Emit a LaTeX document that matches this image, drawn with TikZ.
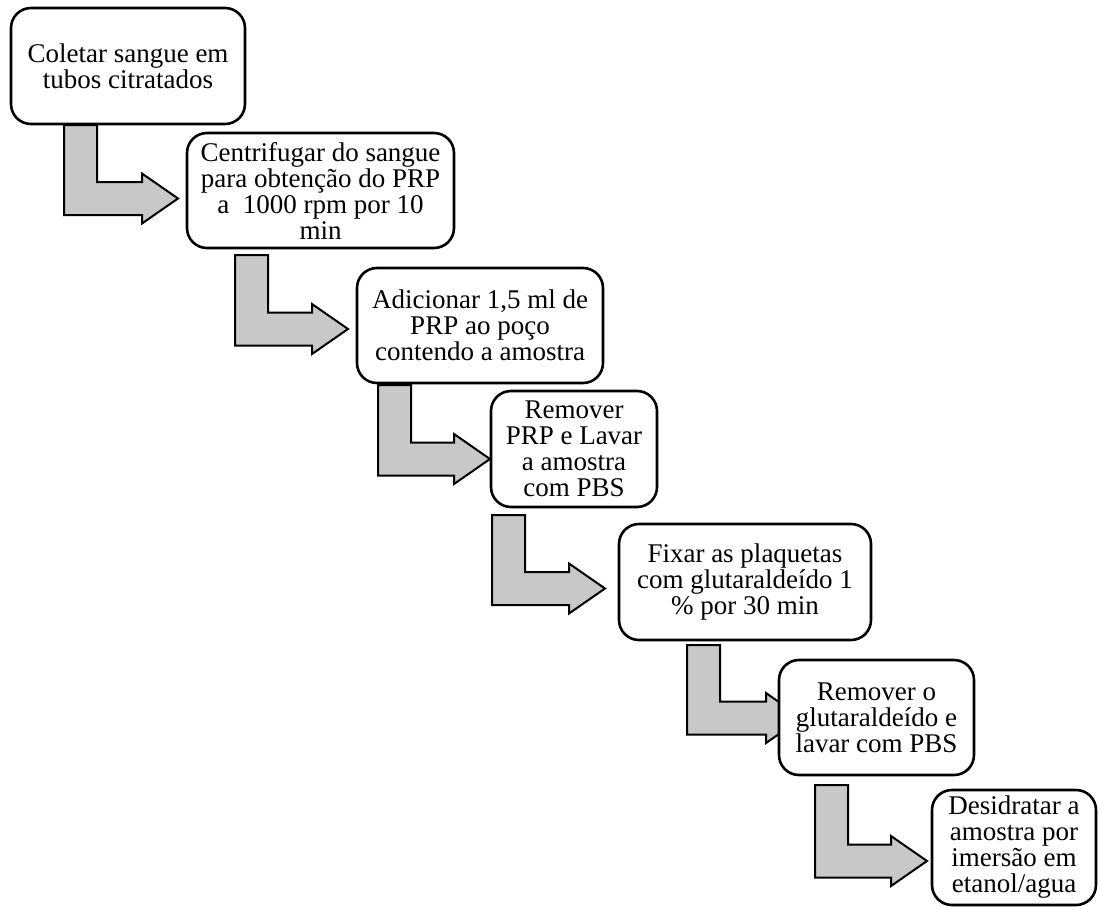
\documentclass[tikz,border=0pt]{standalone}
\usepackage{fontspec}
\setmainfont{Liberation Serif}
\usetikzlibrary{calc}

\definecolor{arrowfill}{RGB}{200,200,200}

\tikzset{
  stepbox/.style={draw=black, line width=2.6pt, rounded corners=20pt,
    fill=white, inner sep=0pt, align=center,
    font=\fontsize{27}{26}\selectfont},
  benta/.style={draw=black, line width=2pt, fill=arrowfill, line join=miter},
}

% L-shaped block arrow: stem hangs from #1 (its top-left corner),
% bar turns right and ends in a head whose tip is #2
\newcommand\lshapearrow[2]{%
  \draw[benta] let \p1=(#1), \p2=(#2) in
    (\x1,\y1) -- (\x1+33pt,\y1) -- (\x1+33pt,\y2+16.5pt)
    -- (\x2-36pt,\y2+16.5pt) -- (\x2-36pt,\y2+25pt) -- (\x2,\y2)
    -- (\x2-36pt,\y2-25pt) -- (\x2-36pt,\y2-16.5pt)
    -- (\x1,\y2-16.5pt) -- cycle;
}

\begin{document}
\begin{tikzpicture}[x=1pt,y=-1pt]
\useasboundingbox (0,0) rectangle (1100,907);

% stem tops and arrow tips
\coordinate (s1) at (64,125);   \coordinate (t1) at (178,198.5);
\coordinate (s2) at (235,255);  \coordinate (t2) at (348,329);
\coordinate (s3) at (378,385);  \coordinate (t3) at (490,459);
\coordinate (s4) at (492,515);  \coordinate (t4) at (605,588.5);
\coordinate (s5) at (687,645);  \coordinate (t5) at (802,718);
\coordinate (s6) at (815,785);  \coordinate (t6) at (927,861);

% arrows first, so the boxes sit on top of them
\lshapearrow{s1}{t1}
\lshapearrow{s2}{t2}
\lshapearrow{s3}{t3}
\lshapearrow{s4}{t4}
\lshapearrow{s5}{t5}
\lshapearrow{s6}{t6}

% process steps
\node[stepbox, minimum width=234pt, minimum height=116pt] (b1) at (128,66)
  {Coletar sangue em\\tubos citratados};
\node[stepbox, minimum width=267pt, minimum height=115pt] (b2) at (320.5,190.5)
  {Centrifugar do sangue\\para obtenção do PRP\\a\ \ 1000 rpm por 10\\min};
\node[stepbox, minimum width=246pt, minimum height=115pt] (b3) at (480,325.5)
  {Adicionar 1,5 ml de\\PRP ao poço\\contendo a amostra};
\node[stepbox, minimum width=166pt, minimum height=116pt] (b4) at (574,449)
  {Remover\\PRP e Lavar\\a amostra\\com PBS};
\node[stepbox, minimum width=252pt, minimum height=116pt] (b5) at (745,582)
  {Fixar as plaquetas\\com glutaraldeído 1\\\% por 30 min};
\node[stepbox, minimum width=195pt, minimum height=115pt] (b6) at (876.5,717.5)
  {Remover o\\glutaraldeído e\\lavar com PBS};
\node[stepbox, minimum width=164pt, minimum height=115pt] (b7) at (1014,847.5)
  {Desidratar a\\amostra por\\imersão em\\etanol/agua};
\end{tikzpicture}
\end{document}
